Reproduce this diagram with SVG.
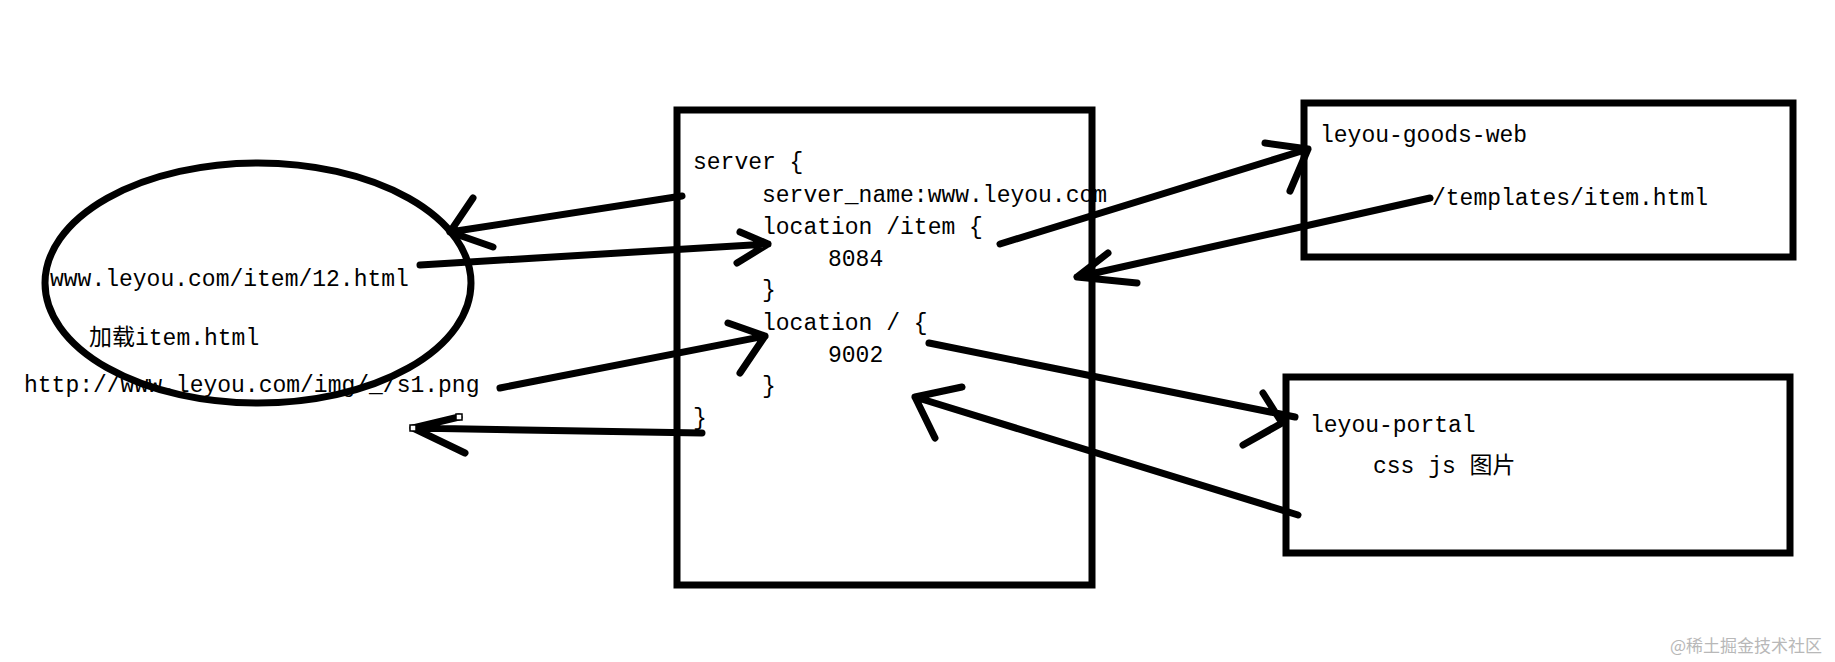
<svg xmlns="http://www.w3.org/2000/svg" width="1835" height="662" viewBox="0 0 1835 662">
<style>
.shape{fill:none;stroke:#000;stroke-width:7}
.ln{fill:none;stroke:#000;stroke-width:7;stroke-linecap:round;stroke-linejoin:round}
.t{font-family:"Liberation Mono","Noto Sans CJK SC",monospace;fill:#000;font-size:23px}
.h{fill:#fff;stroke:#000;stroke-width:1.5}
.wm{font-family:"Noto Sans CJK SC",sans-serif;font-size:17px;fill:#b8b8b8}
</style>
<rect width="1835" height="662" fill="#fff"/>
<g id="browser">
<ellipse class="shape" cx="258" cy="283" rx="213" ry="120" stroke-width="6"/>
<text class="t" x="50" y="286">www.leyou.com/item/12.html</text>
<text class="t" x="89" y="345">加载item.html</text>
<text class="t" x="24" y="392">http://www.leyou.com/img/_/s1.png</text>
</g>
<g id="nginx">
<rect class="shape" x="677" y="110" width="415" height="475"/>
<text class="t" x="693" y="169">server {</text>
<text class="t" x="762" y="202">server_name:www.leyou.com</text>
<text class="t" x="762" y="234">location /item {</text>
<text class="t" x="828" y="266">8084</text>
<text class="t" x="762" y="297">}</text>
<text class="t" x="762" y="330">location / {</text>
<text class="t" x="828" y="362">9002</text>
<text class="t" x="762" y="393">}</text>
<text class="t" x="693" y="425">}</text>
</g>
<g id="goods-web">
<rect class="shape" x="1304" y="103" width="489" height="154"/>
<text class="t" x="1320" y="142">leyou-goods-web</text>
<text class="t" x="1432" y="205">/templates/item.html</text>
</g>
<g id="portal">
<rect class="shape" x="1286" y="377" width="504" height="176"/>
<text class="t" x="1310" y="432">leyou-portal</text>
<text class="t" x="1373" y="473">css js 图片</text>
</g>
<g id="connectors">
<path class="ln" d="M682,196 L450,232 M473,198 L450,232 L493,247"/>
<path class="ln" d="M420,265 L768,244 M740,232 L768,244 L737,263"/>
<path class="ln" d="M500,388 L765,336 M728,323 L765,336 L740,373"/>
<path class="ln" d="M702,433 L413,428 M459,417 L413,428 L465,453"/>
<rect class="h" x="410" y="425" width="6" height="6"/>
<rect class="h" x="456" y="414" width="6" height="6"/>
<path class="ln" d="M1000,244 L1308,149 M1265,143 L1308,149 L1290,191"/>
<path class="ln" d="M1430,198 L1077,277 M1108,253 L1077,277 L1137,283"/>
<path class="ln" d="M929,343 L1295,417 M1263,393 L1282,423 L1243,445"/>
<path class="ln" d="M1298,515 L915,397 M962,387 L915,397 L935,438"/>
</g>
<text class="wm" x="1670" y="652">@稀土掘金技术社区</text>
</svg>
